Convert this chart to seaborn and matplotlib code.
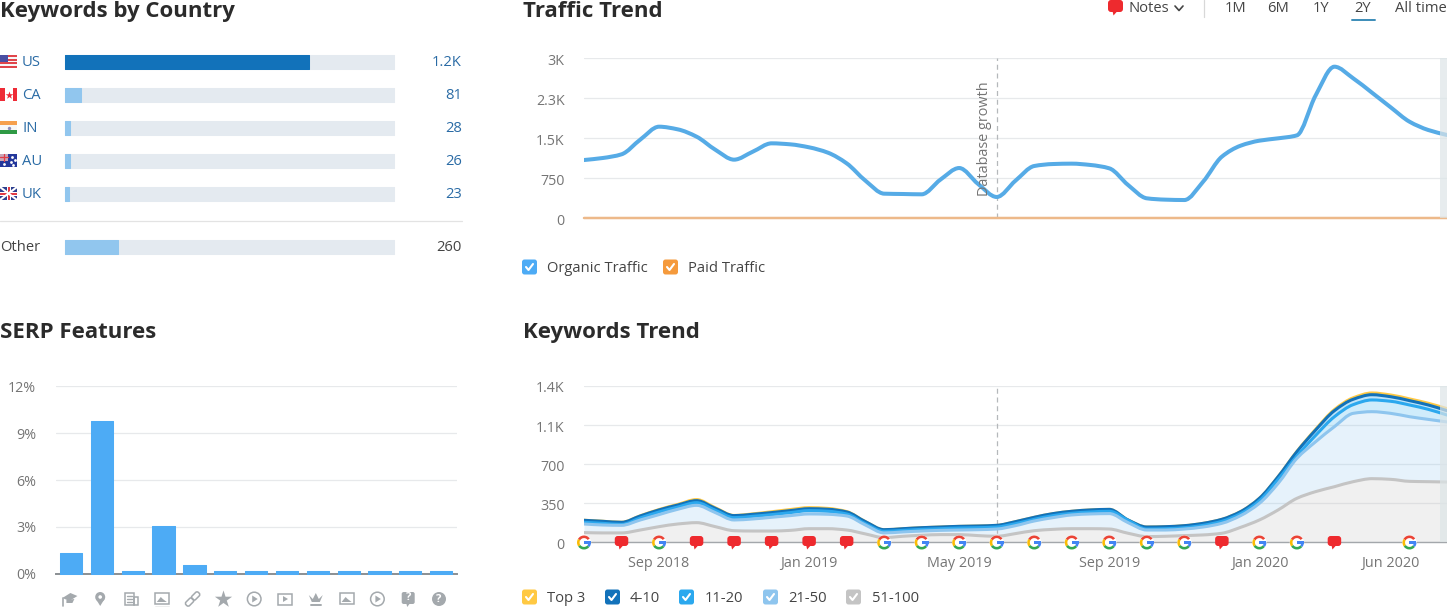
import matplotlib
matplotlib.use("Agg")
import matplotlib.pyplot as plt
import matplotlib.patches as mp
from matplotlib.path import Path
from matplotlib.transforms import Affine2D, ScaledTranslation
import numpy as np
import seaborn as sns

sns.set_theme(style="white")
plt.rcParams['font.family'] = ['Open Sans', 'DejaVu Sans']

# keywords by country
countries = ["US", "CA", "IN", "AU", "UK"]
country_kw = [1200, 81, 28, 26, 23]
country_lbl = ["1.2K", "81", "28", "26", "23"]
other_kw = [260]
other_lbl = "260"
total_kw = 1618

# serp features
serp_names = ["Knowledge", "Local pack", "Top stories", "Image pack", "Sitelinks", "Reviews", "Video",
              "Featured video", "Top ads", "Featured image", "Carousel", "Questions", "FAQ"]
serp_vals = [1.3, 9.8, 0.15, 3.05, 0.55, 0.15, 0.15, 0.15, 0.15, 0.15, 0.15, 0.15, 0.15]
serp_ticks = [0, 3, 6, 9, 12]
serp_ticklabels = ["0%", "3%", "6%", "9%", "12%"]

# half month steps, Jul 2018 to Jun 2020
months = [i / 2 for i in range(47)]

organic = [1087, 1125, 1194, 1470, 1712, 1662, 1525, 1280, 1094, 1244, 1400, 1381, 1325, 1225, 1025, 700,
           456, 450, 444, 720, 937, 640, 394, 700, 975, 1012, 1019, 994, 931, 619, 369, 344, 337, 681,
           1150, 1356, 1450, 1494, 1550, 2300, 2837, 2619, 2350, 2075, 1806, 1650, 1556]
paid = [0] * 47
traffic_ticks = [0, 750, 1500, 2250, 3000]
traffic_ticklabels = ["0", "750", "1.5K", "2.3K", "3K"]

top3 = [200, 191, 182, 240, 296, 342, 385, 312, 243, 257, 276, 296, 313, 306, 278, 188, 115, 124, 133, 139,
        145, 148, 154, 187, 226, 259, 280, 292, 297, 202, 139, 142, 151, 172, 208, 278, 397, 592, 818, 1016,
        1192, 1297, 1340, 1322, 1287, 1248, 1200]
pos4_10 = [197, 188, 179, 236, 290, 334, 373, 304, 239, 251, 266, 284, 301, 296, 272, 185, 113, 122, 131, 137,
           143, 146, 152, 185, 224, 257, 278, 290, 295, 200, 137, 140, 149, 170, 206, 275, 394, 588, 812, 1006,
           1179, 1281, 1322, 1304, 1269, 1230, 1179]
pos11_20 = [179, 170, 161, 218, 272, 316, 355, 287, 221, 233, 248, 266, 284, 278, 254, 167, 99, 107, 116, 122,
            128, 131, 137, 167, 206, 239, 260, 272, 278, 197, 119, 122, 131, 152, 188, 257, 373, 564, 773, 958,
            1125, 1233, 1275, 1263, 1230, 1191, 1140]
pos21_50 = [164, 155, 152, 200, 248, 296, 331, 266, 200, 209, 224, 239, 254, 251, 236, 155, 84, 93, 101, 107,
            110, 113, 119, 149, 191, 221, 245, 254, 257, 176, 110, 110, 119, 137, 170, 239, 349, 528, 752, 901,
            1036, 1155, 1170, 1155, 1125, 1101, 1078]
pos51_100 = [87, 84, 84, 110, 140, 164, 176, 140, 104, 101, 101, 107, 122, 122, 110, 75, 42, 54, 63, 69,
             69, 60, 54, 78, 104, 116, 122, 122, 119, 81, 51, 54, 60, 66, 81, 134, 200, 290, 394, 454,
             498, 543, 570, 564, 546, 543, 540]
kw_ticks = [0, 350, 700, 1050, 1400]
kw_ticklabels = ["0", "350", "700", "1.1K", "1.4K"]
date_ticks = [2, 6, 10, 14, 18, 21.5]
date_labels = ["Sep 2018", "Jan 2019", "May 2019", "Sep 2019", "Jan 2020", "Jun 2020"]
google_months = [0, 2, 8, 9, 10, 11, 12, 13, 14, 15, 16, 18, 19, 22]
note_months = [1, 3, 4, 5, 6, 7, 17, 20]
growth_month = 11

W, H = 1447, 607
GRID = '#E7E9EB'
TICK = '#757575'
DARK = '#333333'
LINK = '#2A6BA5'
ORGANIC = '#56ABE6'
ICON = '#A4A9AD'


def box(l, t, r, b):
    return fig.add_axes([l / W, 1 - b / H, (r - l) / W, (b - t) / H])


def y_(y):
    return H - y


def text(x, y, s, color=DARK, size=10.6, **kw):
    kw.setdefault('va', 'center')
    ov.text(x, y_(y + 1.5), s, color=color, fontsize=size, **kw)


def round_bars(ax, lw=0.75):
    for p in ax.patches:
        p.set_edgecolor(p.get_facecolor())
        p.set_linewidth(lw)
        p.set_joinstyle('round')
        p.set_clip_on(False)


def curve_lines(ax):
    # draw the lines as monotone curves through their points, like the site does
    for line in list(ax.lines):
        xy = line.get_xydata()
        if len(xy) != len(months):
            continue
        x, y = xy[:, 0], xy[:, 1]
        d = np.diff(y) / np.diff(x)
        m = np.zeros(len(x))
        m[0], m[-1] = d[0], d[-1]
        for i in range(1, len(x) - 1):
            if d[i - 1] * d[i] > 0:
                m[i] = 2 * d[i - 1] * d[i] / (d[i - 1] + d[i])
        verts = [(x[0], y[0])]
        for i in range(len(x) - 1):
            h = (x[i + 1] - x[i]) / 3
            verts += [(x[i] + h, y[i] + m[i] * h), (x[i + 1] - h, y[i + 1] - m[i + 1] * h), (x[i + 1], y[i + 1])]
        codes = [Path.MOVETO] + [Path.CURVE4] * (len(verts) - 1)
        patch = mp.PathPatch(Path(verts, codes), facecolor='none', edgecolor=line.get_color(),
                             lw=line.get_linewidth(), zorder=line.get_zorder(), capstyle='round', joinstyle='round')
        ax.add_patch(patch)
        patch.set_clip_on(line.get_clip_on())
        line.set_visible(False)


def nudge_yticks(ax, px):
    for t in ax.get_yticklabels():
        t.set_transform(t.get_transform() + ScaledTranslation(0, -px / 100, fig.dpi_scale_trans))


def rect(x, y, w, h, c, **kw):
    ov.add_patch(mp.Rectangle((x, y_(y + h)), w, h, facecolor=c, edgecolor='none', **kw))


def rbox(x, y, w, h, c, r=2.5, **kw):
    ov.add_patch(mp.FancyBboxPatch((x + r, y_(y + h) + r), w - 2 * r, h - 2 * r,
                                   boxstyle=f"round,pad={r},rounding_size={r}", facecolor=c,
                                   edgecolor='none', lw=0, **kw))


def check(x, y, label, tx, c):
    rbox(x, y - 7.5, 15, 15, c)
    ov.plot([x + 4, x + 6.5, x + 11], [y_(y), y_(y + 3), y_(y - 3)], color='white', lw=1.5)
    text(tx, y, label, color='#444444')


def note(x, y, c='#EE2A2E', w=13.5, h=10):
    rbox(x - w / 2, y - h / 2, w, h, c, r=3)
    ov.add_patch(mp.Polygon([(x - 3, y_(y + h / 2 - 1)), (x + 2, y_(y + h / 2 - 1)), (x - 2, y_(y + h / 2 + 3.5))],
                            facecolor=c, edgecolor='none'))


def google(x, y):
    cy = y_(y)
    ov.add_patch(mp.Circle((x, cy), 7.2, facecolor='white', edgecolor='none'))
    for a, b, c in [(35, 150, '#EA4335'), (150, 215, '#FBBC05'), (215, 320, '#34A853'), (320, 360, '#4285F4')]:
        ov.add_patch(mp.Wedge((x, cy), 7, a, b, width=2.6, facecolor=c, edgecolor='none'))
    ov.add_patch(mp.Rectangle((x, cy - 1.2), 7, 2.4, facecolor='#4285F4', edgecolor='none'))


def flag(name, y):
    t = y - 6.5
    if name == "US":
        for i in range(7):
            rect(0, t + i * 13 / 7, 17, 13 / 7, '#E0454B' if i % 2 == 0 else '#F7F7F7')
        rect(0, t, 8, 7, '#4A4FA3')
    elif name == "CA":
        rect(0, t, 17, 13, '#EE2B36')
        rect(4.5, t, 8, 13, 'white')
        ov.scatter([8.5], [y_(y)], marker='*', s=34, color='#EE2B36', linewidths=0)
    elif name == "IN":
        rect(0, t, 17, 4.4, '#F6A04D')
        rect(0, t + 4.4, 17, 4.3, '#F7F7F7')
        rect(0, t + 8.7, 17, 4.3, '#2F9A45')
        ov.scatter([8.5], [y_(y)], s=6, color='#8C8CB8', linewidths=0)
    elif name == "AU":
        rect(0, t, 17, 13, '#23379B')
        rect(0, t, 8, 6.5, '#C9A6B8')
        ov.plot([4, 4], [y_(t), y_(t + 6.5)], color='#E23B45', lw=0.9)
        ov.plot([0, 8], [y_(t + 3), y_(t + 3)], color='#E23B45', lw=0.9)
        ov.scatter([4, 12, 15, 11, 13], [y_(y + 3.5), y_(y - 4), y_(y - 1), y_(y + 1), y_(y + 4)], s=4,
                   color='white', linewidths=0)
    else:
        rect(0, t, 17, 13, '#2C3F8F')
        ov.plot([0, 17], [y_(t), y_(t + 13)], color='white', lw=1.5)
        ov.plot([0, 17], [y_(t + 13), y_(t)], color='white', lw=1.5)
        rect(0, y - 2, 17, 4, 'white')
        rect(6.5, t, 4, 13, 'white')
        rect(0, y - 1, 17, 2, '#E23B45')
        rect(7.5, t, 2, 13, '#E23B45')


def icon(i, x, y):
    cy = y_(y)
    line = dict(facecolor='none', edgecolor=ICON, lw=1.1)
    fill = dict(facecolor=ICON, edgecolor='none')
    if i == 0:
        ov.add_patch(mp.Polygon([(x - 7, cy + 1), (x + 1, cy + 6), (x + 8, cy + 3), (x, cy - 2)], **fill))
        ov.add_patch(mp.Polygon([(x - 3, cy - 1), (x + 5, cy), (x + 3, cy - 4), (x - 3, cy - 4)], **fill))
        ov.plot([x - 6, x - 6], [cy + 1, cy - 7], color=ICON, lw=1.2)
    elif i == 1:
        ov.add_patch(mp.Circle((x, cy + 2), 5, **fill))
        ov.add_patch(mp.Polygon([(x - 4.6, cy + 0.5), (x + 4.6, cy + 0.5), (x, cy - 7)], **fill))
        ov.add_patch(mp.Circle((x, cy + 2), 1.8, facecolor='white', edgecolor='none'))
    elif i == 2:
        ov.add_patch(mp.Rectangle((x - 6, cy - 6), 9, 12, **line))
        ov.add_patch(mp.Rectangle((x + 3, cy - 6), 3.5, 8, **line))
        for k in (-3, 0, 3):
            ov.plot([x - 4, x + 1], [cy + k, cy + k], color=ICON, lw=1)
    elif i in (3, 9):
        ov.add_patch(mp.Rectangle((x - 7, cy - 5), 14, 11, **line))
        ov.add_patch(mp.Polygon([(x - 5, cy - 3), (x - 1, cy + 2), (x + 1, cy), (x + 5, cy - 3)], **fill))
        if i == 3:
            ov.plot([x - 7, x + 7], [cy - 7.5, cy - 7.5], color=ICON, lw=1)
    elif i == 4:
        for dx, dy in [(-3, -3), (3, 3)]:
            ov.add_patch(mp.FancyBboxPatch((x + dx - 3, cy + dy - 1), 6, 2, boxstyle="round,pad=1.5,rounding_size=2",
                                           transform=Affine2D().rotate_deg_around(x + dx, cy + dy, 45) + ov.transData,
                                           **line))
    elif i == 5:
        ov.scatter([x], [cy], marker='*', s=170, color=ICON, linewidths=0)
    elif i in (6, 10):
        ov.add_patch(mp.Circle((x, cy), 6.8, **line))
        ov.add_patch(mp.Polygon([(x - 2, cy - 3.5), (x - 2, cy + 3.5), (x + 3.5, cy)], **fill))
    elif i == 7:
        ov.add_patch(mp.Rectangle((x - 7, cy - 5.5), 14, 11, **line))
        ov.add_patch(mp.Polygon([(x - 2, cy - 3), (x - 2, cy + 3), (x + 3, cy)], **fill))
    elif i == 8:
        ov.add_patch(mp.Polygon([(x - 7, cy + 4), (x - 4, cy - 3), (x + 4, cy - 3), (x + 7, cy + 4), (x + 3, cy),
                                 (x, cy + 6), (x - 3, cy)], **fill))
        ov.plot([x - 5, x + 5], [cy - 6, cy - 6], color=ICON, lw=1.4)
    elif i == 11:
        rbox(x - 6.5, y - 7, 13, 12, ICON, r=2)
        ov.add_patch(mp.Polygon([(x - 2, cy - 4), (x + 2, cy - 4), (x - 1, cy - 8)], **fill))
        ov.text(x, cy + 1, "?", color='white', fontsize=8, fontweight='bold', ha='center', va='center')
    else:
        ov.add_patch(mp.Circle((x, cy), 7, **fill))
        ov.text(x, cy, "?", color='white', fontsize=8, fontweight='bold', ha='center', va='center')


fig = plt.figure(figsize=(W / 100, H / 100), dpi=100, facecolor='white')

# keywords by country
ax = box(64.8, 45, 393.8, 210)
sns.barplot(x=[total_kw] * 5, y=countries, color='#E4EAF0', width=14 / 33, saturation=1, ax=ax)
sns.barplot(x=country_kw, y=countries, hue=countries, palette=['#1272BA'] + ['#91C6EE'] * 4, width=14 / 33,
            saturation=1, legend=False, ax=ax)
round_bars(ax)
ax.set_xlim(0, total_kw)
ax.axis('off')

ax = box(64.8, 230.5, 393.8, 263.5)
sns.barplot(x=[total_kw], y=["Other"], color='#E4EAF0', width=14 / 33, saturation=1, ax=ax)
sns.barplot(x=other_kw, y=["Other"], color='#91C6EE', width=14 / 33, saturation=1, ax=ax)
round_bars(ax)
ax.set_xlim(0, total_kw)
ax.axis('off')

# serp features
ax = box(55.6, 386.3, 456.6, 573.7)
sns.barplot(x=serp_names, y=serp_vals, color='#4DABF5', width=0.72, saturation=1, ax=ax, zorder=3)
round_bars(ax)
ax.set_ylim(0, 12)
ax.set_yticks(serp_ticks, serp_ticklabels)
ax.set_xticks([])
ax.set_xlabel('')
ax.grid(axis='y', color=GRID, lw=0.9)
ax.set_axisbelow(True)
sns.despine(ax=ax, left=True, top=True, right=True)
ax.spines['bottom'].set_color('#8A8F93')
ax.spines['bottom'].set_linewidth(1.4)
ax.tick_params(axis='y', length=0, pad=14, labelcolor=TICK, labelsize=10.3)

# traffic trend
ax = box(584, 58, W, 218)
sns.lineplot(x=months, y=organic, color=ORGANIC, linewidth=2.9, ax=ax, zorder=3)
sns.lineplot(x=months, y=paid, color='#EDB98A', linewidth=1.8, ax=ax, zorder=4, clip_on=False)
curve_lines(ax)
ax.set_xlim(0, 23)
ax.set_ylim(0, 3000)
ax.set_yticks(traffic_ticks, traffic_ticklabels)
ax.set_xticks([])
ax.grid(axis='y', color=GRID, lw=0.9)
ax.set_axisbelow(True)
ax.axvline(growth_month, color='#B5B8BB', lw=0.9, ls=(0, (4, 3)), zorder=2)
ax.axvspan(22.81, 23, color='#DDE5E7', alpha=0.7, lw=0, zorder=5)
sns.despine(ax=ax, left=True, bottom=True)
ax.tick_params(axis='y', length=0, pad=14, labelcolor=TICK, labelsize=10.3)
nudge_yticks(ax, 1)

# keywords trend
ax = box(584, 386, W, 542.3)
ax.fill_between(months, pos51_100, color='#C4C4C4', alpha=0.25, lw=0, zorder=1)
ax.fill_between(months, pos51_100, pos21_50, color='#8EC5EE', alpha=0.22, lw=0, zorder=1)
ax.fill_between(months, pos21_50, pos11_20, color='#55BDF2', alpha=0.28, lw=0, zorder=1)
ax.fill_between(months, pos11_20, pos4_10, color='#2BA8EE', alpha=0.3, lw=0, zorder=1)
sns.lineplot(x=months, y=top3, color='#FFC943', linewidth=1.8, ax=ax, zorder=2)
sns.lineplot(x=months, y=pos4_10, color='#1272BA', linewidth=2.2, ax=ax, zorder=3)
sns.lineplot(x=months, y=pos11_20, color='#2BA8EE', linewidth=2.2, ax=ax, zorder=4)
sns.lineplot(x=months, y=pos21_50, color='#8EC5EE', linewidth=2.2, ax=ax, zorder=5)
sns.lineplot(x=months, y=pos51_100, color='#C4C4C4', linewidth=2.2, ax=ax, zorder=6)
curve_lines(ax)
ax.set_xlim(0, 23)
ax.set_ylim(0, 1400)
ax.set_yticks(kw_ticks, kw_ticklabels)
ax.set_xticks(date_ticks, date_labels)
ax.grid(axis='y', color=GRID, lw=0.9)
ax.set_axisbelow(True)
ax.axvline(growth_month, color='#B5B8BB', lw=0.9, ls=(0, (4, 3)), zorder=2)
ax.axvspan(22.81, 23, color='#DDE5E7', alpha=0.7, lw=0, zorder=7)
sns.despine(ax=ax, left=True)
ax.spines['bottom'].set_color('#A3A7AB')
ax.spines['bottom'].set_linewidth(1)
ax.tick_params(axis='y', length=0, pad=14, labelcolor=TICK, labelsize=10.3)
ax.tick_params(axis='x', length=0, pad=10, labelcolor=TICK, labelsize=10.4)
nudge_yticks(ax, 1)

# overlay for titles, legends and icons, in pixels
ov = fig.add_axes([0, 0, 1, 1], facecolor='none', zorder=10)
ov.set_xlim(0, W)
ov.set_ylim(0, H)
ov.axis('off')

for s, x, y in [("Keywords by Country", 0, 10), ("SERP Features", 0, 331), ("Traffic Trend", 523, 10),
                ("Keywords Trend", 523, 331)]:
    text(x, y, s, color='#2B2B2B', size=16, fontweight='bold')

for i, c in enumerate(countries):
    y = 61.5 + 33 * i
    flag(c, y)
    text(22, y - 0.5, c, color=LINK)
    text(462, y - 0.5, country_lbl[i], color=LINK, ha='right')
ov.plot([0, 462], [y_(220.5), y_(220.5)], color='#E3E3E3', lw=0.9)
text(0, 246, "Other", color='#444444')
text(462, 246, other_lbl, color='#444444', ha='right')

for i in range(len(serp_names)):
    icon(i, 56 + 30.8 * (i + 0.5) - 2, 599)

text(985, 137, "Database growth", color=TICK, size=10.4, rotation=90, ha='center')

# top bar
note(1115.5, 6, w=15, h=12)
text(1128, 6.5, "Notes", color='#444444')
ov.plot([1175, 1179, 1183], [y_(6), y_(10.5), y_(6)], color='#444444', lw=1.2)
ov.plot([1204, 1204], [y_(0), y_(17)], color='#D8D8D8', lw=0.9)
for s, x in [("1M", 1236), ("6M", 1278), ("1Y", 1321), ("2Y", 1363)]:
    text(x, 7.5, s, color='#444444', ha='center')
text(1395, 7.5, "All time", color='#444444')
ov.plot([1352, 1375], [y_(20), y_(20)], color='#3B8CB8', lw=1.4)

# legends
check(522, 267, "Organic Traffic", 547, '#4DABF5')
check(663, 267, "Paid Traffic", 688, '#F59A3C')
for s, bx, tx, c in [("Top 3", 522, 547, '#FFC943'), ("4-10", 605, 630, '#1272BA'), ("11-20", 679, 705, '#2BA8EE'),
                     ("21-50", 763, 788, '#8EC5EE'), ("51-100", 846, 872, '#C4C4C4')]:
    check(bx, 597, s, tx, c)

# markers on the time axis
step = (W - 584) / 23
for m in google_months:
    google(584 + m * step, 542.5)
for m in note_months:
    note(584 + m * step, 541)

fig.savefig('out.png', dpi=100)
